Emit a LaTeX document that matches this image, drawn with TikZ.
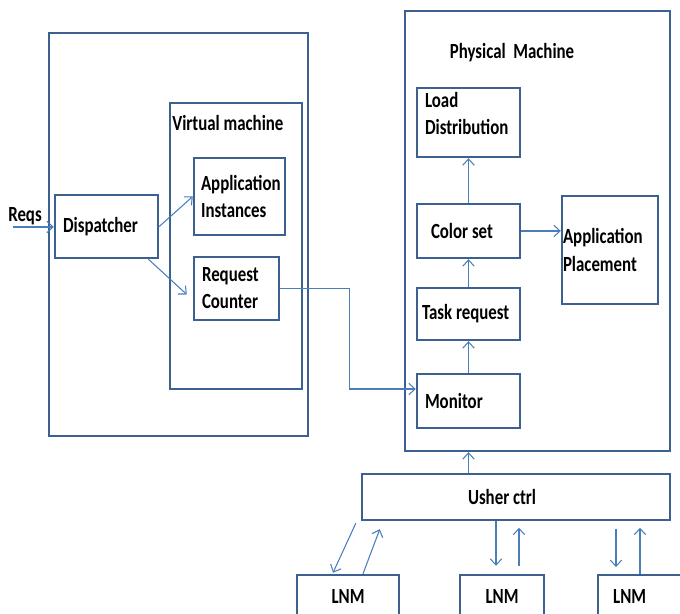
\documentclass[tikz,border=0pt]{standalone}
\usepackage{fontspec}
\setmainfont{Carlito}[FakeStretch=0.78]
\usetikzlibrary{arrows.meta,positioning,calc}
\definecolor{edge}{HTML}{3C6090}
\definecolor{wire}{HTML}{4A7EBB}
\hyphenpenalty=10000
\tikzset{
  blk/.style={draw=edge, line width=1.4pt, align=flush left, inner xsep=0.16cm, inner ysep=2pt},
  shell/.style={draw=edge, line width=1.4pt},
  link/.style={draw=wire, line width=0.6pt, -{Straight Barb[length=3.5pt,width=6.5pt]}},
}

\begin{document}
\begin{tikzpicture}[x=0.02cm, y=-0.02cm, font=\bfseries\fontsize{12.3}{15.4}\selectfont]
\clip (0,0) rectangle (680,614);
% left side: host with its virtual machine
\node[shell, minimum width=5.18cm, minimum height=8.06cm] (host) at (178.5,234.5) {};
\node[shell, minimum width=2.64cm, minimum height=5.72cm] (vm) at (236,246) {};
\node[anchor=west, inner sep=0pt] (vmlbl) at (172,123) {Virtual machine};
\node[blk, text width=1.74cm, minimum height=1.26cm] (disp) at (106.5,226.5) {Dispatcher};
\node[blk, text width=1.54cm, inner xsep=0.14cm, minimum height=1.54cm] (inst) at (239.5,196.5) {Application\\Instances};
\node[blk, text width=1.38cm, minimum height=1.26cm] (cnt) at (236.5,288.5) {Request\\Counter};
\node[inner sep=0pt] (reqs) at (25,216) {Reqs};
\coordinate (reqin) at (13,227);

% physical machine
\node[shell, minimum width=5.3cm, minimum height=8.8cm] (pm) at (537.5,231) {};
\node[inner sep=0pt] (pmlbl) at (512,53) {Physical\ \ Machine};
\node[blk, text width=1.74cm, minimum height=1.38cm] (load) at (468.5,122.5) {Load\\Distribution\\[-5pt]\mbox{}};
\node[blk, text width=1.50cm, inner xsep=0.28cm, minimum height=1.08cm] (color) at (468.5,231) {Color set};
\node[blk, text width=1.88cm, inner xsep=0.02cm, minimum height=2.16cm] (place) at (610,250) {Application\\Placement};
\node[blk, text width=1.86cm, inner xsep=0.1cm, minimum height=1.04cm] (task) at (468.5,314) {Task request};
\node[blk, text width=1.74cm, minimum height=1.08cm] (mon) at (468.5,401) {Monitor};

% controller and local node managers
\node[blk, text width=1.92cm, inner xsep=2.12cm, minimum height=0.92cm] (usher) at (516,497) {Usher ctrl};
\node[blk, align=center, minimum width=2.04cm, minimum height=0.84cm] (lnm1) at (348,596) {LNM};
\node[blk, align=center, minimum width=1.68cm, minimum height=0.84cm] (lnm2) at (502,596) {LNM};
\node[blk, text width=1.4cm, inner xsep=0.3cm, anchor=west, minimum height=0.84cm] (lnm3) at (597,596) {LNM};

% requests into the VM
\draw[link] (reqin) -- (disp.west |- reqin);
\draw[link] (disp.east) -- (inst.west);
\draw[link] (disp.-38) -- ([shift={(-6,6)}]cnt.west);
\draw[link] (cnt.east) -- ++(69,0) |- ([shift={(0,-12)}]mon.west);

% inside the physical machine
\draw[link] (mon.north) -- (task.south);
\draw[link] (task.north) -- (color.south);
\draw[link] (color.north) -- (load.south);
\draw[link] (color.east) -- (color.east -| place.west);
\draw[link] (mon.south |- usher.north) -- (mon.south |- pm.south);

% usher <-> LNM
\draw[link] ([shift={(-5,2)}]usher.south west) -- ([shift={(-15,-1)}]lnm1.north);
\draw[link] ([shift={(15,0)}]lnm1.north) -- ([shift={(19,8)}]usher.south west);
\coordinate (dn2) at ([shift={(-6,-8)}]lnm2.north);
\coordinate (up2) at ([shift={(17,-8)}]lnm2.north);
\draw[link] (usher.south -| dn2) -- (dn2);
\draw[link] (up2) -- ++(0,-38);
\coordinate (dn3) at (616,567);
\draw[link] (dn3 |- 0,529) -- (dn3);
\draw[link] (lnm3.north west) ++(43,0) -- ++(0,-46);
\end{tikzpicture}
\end{document}
